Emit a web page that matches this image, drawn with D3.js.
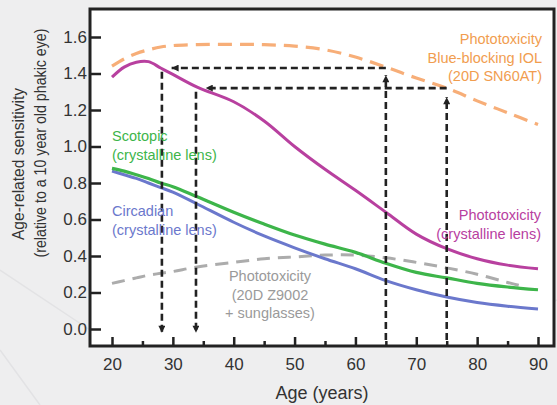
<!DOCTYPE html>
<html>
<head>
<meta charset="utf-8">
<script src="https://cdn.jsdelivr.net/npm/d3@7"></script>
<style>
  body { margin: 0; background: #eeeeef; }
  svg { display: block; font-family: "Liberation Sans", Arial, sans-serif; }
</style>
</head>
<body>
<div id="chart"></div>
<script>
// ages sampled along the curves
const ages = [20, 22, 24, 26, 28, 30, 34, 40, 45, 50, 55, 60, 65, 70, 75, 80, 85, 90];
const grayAges = [20, 22, 24, 26, 28, 30, 34, 40, 45, 50, 55, 60, 65, 70, 75, 80, 85, 88];

const blueBlockingIOL = [1.44, 1.48, 1.51, 1.53, 1.545, 1.553, 1.558, 1.56, 1.558, 1.55, 1.53, 1.49, 1.435, 1.375, 1.32, 1.25, 1.185, 1.12];
const phototoxLens    = [1.38, 1.435, 1.462, 1.465, 1.43, 1.395, 1.325, 1.245, 1.14, 1.0, 0.875, 0.76, 0.64, 0.52, 0.44, 0.385, 0.35, 0.33];
const scotopicLens    = [0.88, 0.865, 0.845, 0.825, 0.80, 0.78, 0.725, 0.64, 0.575, 0.515, 0.465, 0.42, 0.36, 0.31, 0.28, 0.25, 0.23, 0.215];
const circadianLens   = [0.865, 0.845, 0.825, 0.80, 0.775, 0.75, 0.685, 0.585, 0.51, 0.445, 0.385, 0.33, 0.265, 0.215, 0.175, 0.145, 0.125, 0.11];
const z9002Sunglasses = [0.25, 0.265, 0.28, 0.295, 0.305, 0.315, 0.34, 0.365, 0.385, 0.395, 0.405, 0.405, 0.39, 0.365, 0.335, 0.30, 0.255, 0.23];

const xTicks = [20, 30, 40, 50, 60, 70, 80, 90];
const xMinorTicks = [25, 35, 45, 55, 65, 75, 85];
const yTicks = [0, 0.2, 0.4, 0.6, 0.8, 1.0, 1.2, 1.4, 1.6];

// guide arrows: [age, value] pairs
const arrowsLeft = [[[65, 1.43], [29.8, 1.43]], [[75, 1.32], [35.4, 1.32]]];
const arrowsDown = [[[28.2, 1.41], [28.2, -0.02]], [[33.8, 1.30], [33.8, -0.02]]];
const arrowsUp   = [[[65, -0.06], [65, 1.39]], [[75, -0.06], [75, 1.27]]];

const width = 557, height = 405;

const svg = d3.select("#chart").append("svg")
  .attr("width", width)
  .attr("height", height);

svg.append("rect")
  .attr("width", width).attr("height", height)
  .attr("fill", "#eeeeef");

// faint background strokes
svg.append("path")
  .attr("d", "M0,270 L90,330 M0,350 L40,405 M470,346 L557,300")
  .attr("stroke", "#e2e2e4").attr("stroke-width", 1.5).attr("fill", "none");

const frame = { left: 90, right: 554, top: 9, bottom: 346 };

svg.append("rect")
  .attr("x", frame.left).attr("y", frame.top)
  .attr("width", frame.right - frame.left)
  .attr("height", frame.bottom - frame.top)
  .attr("fill", "#fff");

const x = d3.scaleLinear().domain([20, 90]).range([112, 538]);
const y = d3.scaleLinear().domain([0, 1.6]).range([329, 37]);

// axes
svg.append("g")
  .attr("transform", `translate(0, ${frame.bottom})`)
  .call(d3.axisBottom(x).tickValues(xTicks).tickSize(-9).tickPadding(12).tickFormat(d3.format("d")));
svg.append("g")
  .attr("transform", `translate(0, ${frame.bottom})`)
  .call(d3.axisBottom(x).tickValues(xMinorTicks).tickSize(-5).tickFormat(""));

svg.append("g")
  .attr("transform", `translate(${frame.left}, 0)`)
  .call(d3.axisLeft(y).tickValues(yTicks).tickSize(-11).tickPadding(3).tickFormat(d3.format(".1f")));

svg.selectAll(".domain").remove();
svg.selectAll(".tick line").attr("stroke", "#222").attr("stroke-width", 2.5);
svg.selectAll(".tick text")
  .attr("fill", "#333")
  .style("font-size", "17px")
  .style("font-family", "\"Liberation Sans\", Arial, sans-serif");

svg.append("rect")
  .attr("x", frame.left).attr("y", frame.top)
  .attr("width", frame.right - frame.left)
  .attr("height", frame.bottom - frame.top)
  .attr("fill", "none")
  .attr("stroke", "#222")
  .attr("stroke-width", 3);

// curves
const line = d3.line()
  .x(d => x(d[0]))
  .y(d => y(d[1]))
  .curve(d3.curveCatmullRom.alpha(0.5));

const series = [
  { ages: grayAges, values: z9002Sunglasses, color: "#acacac", dash: "13,8", w: 3 },
  { ages: ages, values: circadianLens, color: "#6b78cc", dash: null, w: 3 },
  { ages: ages, values: scotopicLens, color: "#3db54a", dash: null, w: 3.2 },
  { ages: ages, values: blueBlockingIOL, color: "#f7ae78", dash: "14,8", w: 3.2 },
  { ages: ages, values: phototoxLens, color: "#b8409f", dash: null, w: 3 }
];

svg.selectAll(".curve")
  .data(series)
  .join("path")
    .attr("class", "curve")
    .attr("d", s => line(s.ages.map((a, i) => [a, s.values[i]])))
    .attr("fill", "none")
    .attr("stroke", s => s.color)
    .attr("stroke-width", s => s.w)
    .attr("stroke-dasharray", s => s.dash);

// arrow heads
const defs = svg.append("defs");
defs.append("marker")
  .attr("id", "head")
  .attr("viewBox", "0 0 10 10")
  .attr("refX", 10).attr("refY", 5)
  .attr("markerUnits", "userSpaceOnUse")
  .attr("markerWidth", 9).attr("markerHeight", 7)
  .attr("orient", "auto")
  .append("path")
    .attr("d", "M0,0 L10,5 L0,10 Z")
    .attr("fill", "#222");

const arrows = [...arrowsLeft, ...arrowsDown, ...arrowsUp];
svg.selectAll(".guide")
  .data(arrows)
  .join("line")
    .attr("class", "guide")
    .attr("x1", d => x(d[0][0])).attr("y1", d => y(d[0][1]))
    .attr("x2", d => x(d[1][0])).attr("y2", d => y(d[1][1]))
    .attr("stroke", "#222")
    .attr("stroke-width", 2.6)
    .attr("stroke-dasharray", "7,4")
    .attr("marker-end", "url(#head)");

// series labels
const labels = [
  { lines: ["Phototoxicity", "Blue-blocking IOL", "(20D SN60AT)"], color: "#f19d4f", x: 542, y: 44, anchor: "end" },
  { lines: ["Scotopic", "(crystalline lens)"], color: "#3db54a", x: 112, y: 141, anchor: "start" },
  { lines: ["Circadian", "(crystalline lens)"], color: "#6b78cc", x: 112, y: 216, anchor: "start" },
  { lines: ["Phototoxicity", "(crystalline lens)"], color: "#b8409f", x: 541, y: 220, anchor: "end" },
  { lines: ["Phototoxicity", "(20D Z9002", "+ sunglasses)"], color: "#9a9a9a", x: 270, y: 281, anchor: "middle" }
];

labels.forEach(l => {
  const t = svg.append("text")
    .attr("text-anchor", l.anchor)
    .attr("fill", l.color)
    .style("font-size", "14.5px");
  l.lines.forEach((s, i) => {
    t.append("tspan").attr("x", l.x).attr("y", l.y + i * 18.5).text(s);
  });
});

// axis titles
svg.append("text")
  .attr("x", 322).attr("y", 399)
  .attr("text-anchor", "middle")
  .attr("fill", "#333")
  .style("font-size", "18px")
  .text("Age (years)");

svg.append("text")
  .attr("transform", "translate(24, 164) rotate(-90)")
  .attr("text-anchor", "middle")
  .attr("fill", "#333")
  .style("font-size", "16px")
  .attr("textLength", 152).attr("lengthAdjust", "spacingAndGlyphs")
  .text("Age-related sensitivity");

svg.append("text")
  .attr("transform", "translate(46, 143) rotate(-90)")
  .attr("text-anchor", "middle")
  .attr("fill", "#333")
  .style("font-size", "16px")
  .attr("textLength", 229).attr("lengthAdjust", "spacingAndGlyphs")
  .text("(relative to a 10 year old phakic eye)");
</script>
</body>
</html>
